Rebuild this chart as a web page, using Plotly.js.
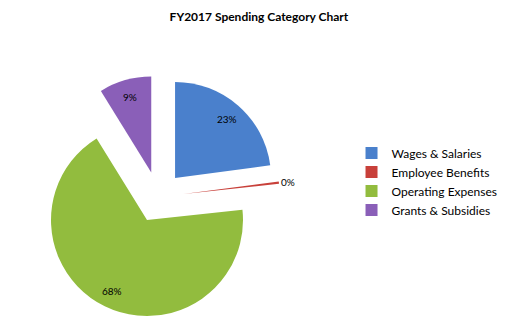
<!DOCTYPE html>
<html><head><meta charset="utf-8">
<script src="https://cdn.plot.ly/plotly-3.0.1.min.js"></script>
<style>html,body{margin:0;padding:0;background:#fff}</style>
</head><body>
<div id="chart" style="width:520px;height:333px"></div>
<script>
var categories = ["Wages & Salaries", "Employee Benefits", "Operating Expenses", "Grants & Subsidies"];
var amounts = [22.9, 0.4, 67.9, 8.8];
var colors = ["#4a80cc", "#c8403a", "#92bc3e", "#8a5fb8"];
var labelOutside = [false, true, false, false];

var W = 520, H = 333;
var PULL = 0.266;
var FONT = "Lato, 'Open Sans', sans-serif";

var trace = {
  type: "pie",
  labels: categories,
  values: amounts,
  sort: false,
  direction: "clockwise",
  rotation: 0,
  pull: categories.map(function(){ return PULL; }),
  marker: {colors: colors, line: {width: 0}},
  textinfo: "none",
  hoverinfo: "none",
  domain: {x: [0.0706, 0.538], y: [0.043, 0.773]}
};

var layout = {
  width: W, height: H,
  margin: {l: 0, r: 0, t: 0, b: 0},
  paper_bgcolor: "#fff",
  title: {text: "<b>FY2017 Spending Category Chart</b>", x: 0.498, xanchor: "center", y: 0.95, yanchor: "middle",
          font: {family: FONT, size: 12, color: "#000"}},
  showlegend: true,
  legend: {x: 0.676, xanchor: "left", y: 0.455, yanchor: "middle",
           font: {family: FONT, size: 12, color: "#000"},
           itemwidth: 30, traceorder: "normal"},
  font: {family: FONT}
};

var gd = document.getElementById("chart");
Plotly.newPlot(gd, [trace], layout, {displayModeBar: false, staticPlot: true}).then(function(){
  var cd0 = gd.calcdata[0][0];
  var cx = cd0.cx, cy = cd0.cy, r = cd0.r;
  var total = amounts.reduce(function(a, b){ return a + b; }, 0);
  var cum = 0, anns = [];
  for (var i = 0; i < amounts.length; i++) {
    var frac = amounts[i] / total;
    var mid = (cum + frac / 2) * 2 * Math.PI;
    cum += frac;
    var dx = Math.sin(mid), dy = -Math.cos(mid);
    var dist = r * PULL + (labelOutside[i] ? r * 1.1 : r * 0.82);
    var px = cx + dx * dist, py = cy + dy * dist;
    anns.push({
      xref: "paper", yref: "paper",
      x: px / W, y: 1 - py / H,
      xanchor: "center", yanchor: "middle",
      text: Math.round(frac * 100) + "%",
      showarrow: false,
      font: {family: FONT, size: 10, color: "#000"}
    });
  }
  return Plotly.relayout(gd, {annotations: anns});
});
</script>
</body></html>
